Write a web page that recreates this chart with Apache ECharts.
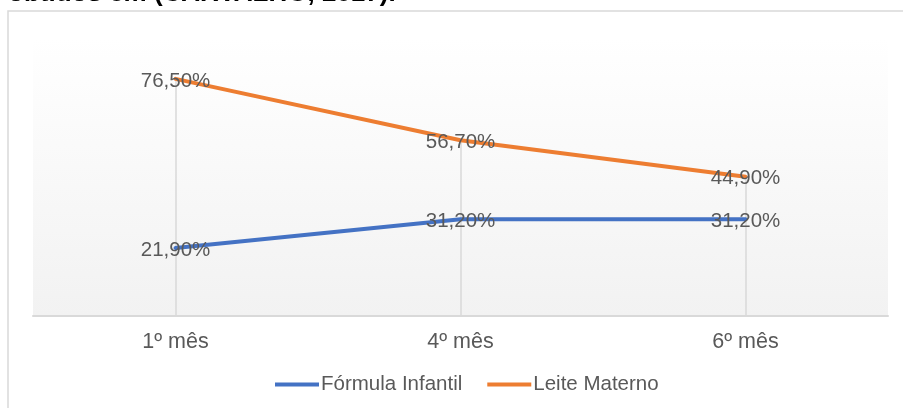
<!DOCTYPE html>
<html>
<head>
<meta charset="utf-8">
<script src="https://cdn.jsdelivr.net/npm/echarts@6/dist/echarts.min.js"></script>
<style>
  html, body { margin: 0; padding: 0; background: #ffffff; }
  #chart { width: 903px; height: 408px; }
</style>
</head>
<body>
<div id="chart"></div>
<script>
// Feeding practice by month
const categories = ['1º mês', '4º mês', '6º mês'];
const formulaInfantil = [21.9, 31.2, 31.2];
const leiteMaterno = [76.5, 56.7, 44.9];
const seriesNames = ['Fórmula Infantil', 'Leite Materno'];
const caption = 'obtidos em (CARVALHO, 2017).';

const FONT = '"Liberation Sans", Arial, sans-serif';
const TEXT = '#595959';

const pct = v => v.toFixed(2).replace('.', ',') + '%';

// Drop lines from each upper point down to the category axis
const dropLines = categories.map((c, i) => [
  { coord: [c, leiteMaterno[i]] },
  { coord: [c, 0] }
]);

const labelStyle = {
  show: true,
  position: 'inside',
  offset: [0, 2],
  color: TEXT,
  fontFamily: FONT,
  fontSize: 20.5,
  formatter: p => pct(p.value)
};

const chart = echarts.init(document.getElementById('chart'), null, { renderer: 'canvas' });

chart.setOption({
  animation: false,
  backgroundColor: '#ffffff',
  graphic: [
    {
      type: 'rect',
      shape: { x: 8, y: 11, width: 910, height: 420 },
      style: { fill: 'none', stroke: '#d9d9d9', lineWidth: 1.5 },
      silent: true,
      z: 0
    },
    {
      type: 'text',
      left: 8,
      top: -19,
      style: {
        text: caption,
        fill: '#000000',
        font: 'bold 26px ' + FONT
      },
      silent: true
    }
  ],
  grid: {
    left: 33,
    right: 15,
    top: 37,
    bottom: 92,
    show: true,
    borderWidth: 0,
    backgroundColor: new echarts.graphic.LinearGradient(0, 0, 0, 1, [
      { offset: 0, color: '#ffffff' },
      { offset: 1, color: '#f2f2f2' }
    ])
  },
  legend: {
    left: 270,
    top: 369,
    itemWidth: 44,
    itemHeight: 4,
    itemGap: 25,
    icon: 'rect',
    data: seriesNames,
    textStyle: { color: TEXT, fontFamily: FONT, fontSize: 20.5, padding: [0, 0, 0, -3] }
  },
  xAxis: {
    type: 'category',
    data: categories,
    boundaryGap: true,
    axisLine: { show: true, lineStyle: { color: '#d9d9d9', width: 2 } },
    axisTick: { show: false },
    axisLabel: { color: TEXT, fontFamily: FONT, fontSize: 21.5, margin: 15 },
    splitLine: { show: false }
  },
  yAxis: {
    type: 'value',
    min: 0,
    max: 90,
    show: false,
    splitLine: { show: false }
  },
  series: [
    {
      name: seriesNames[0],
      type: 'line',
      data: formulaInfantil,
      symbol: 'circle',
      symbolSize: 1,
      showSymbol: true,
      itemStyle: { color: '#4472C4' },
      lineStyle: { color: '#4472C4', width: 4, cap: 'round' },
      label: labelStyle,
      z: 3
    },
    {
      name: seriesNames[1],
      type: 'line',
      data: leiteMaterno,
      symbol: 'circle',
      symbolSize: 1,
      showSymbol: true,
      itemStyle: { color: '#ED7D31' },
      lineStyle: { color: '#ED7D31', width: 4, cap: 'round' },
      label: labelStyle,
      z: 3,
      markLine: {
        silent: true,
        symbol: ['none', 'none'],
        label: { show: false },
        lineStyle: { color: '#d9d9d9', width: 1.5, type: 'solid' },
        data: dropLines,
        z: 1
      }
    }
  ]
});
</script>
</body>
</html>
